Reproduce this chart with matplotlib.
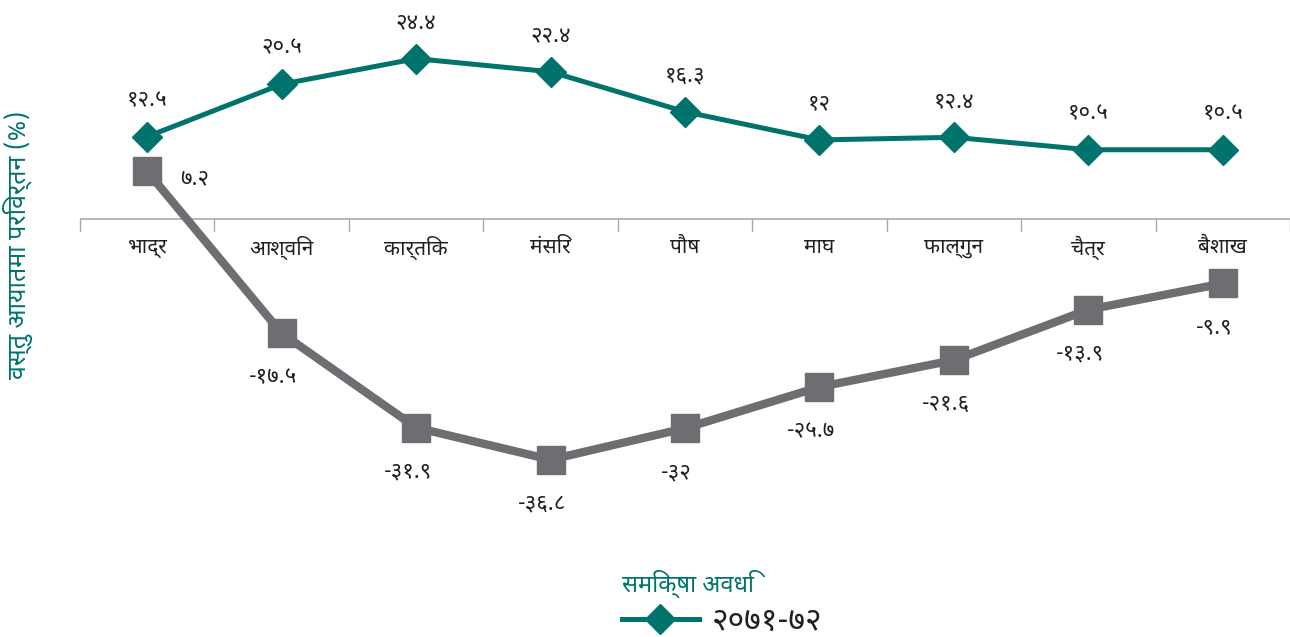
import matplotlib
matplotlib.use('Agg')
import matplotlib.pyplot as plt
from matplotlib import font_manager
from matplotlib.ft2font import FT2Font

# Data (Nepali months, percent change in merchandise imports)
months = ['भाद्र', 'आश्विन', 'कार्तिक', 'मंसिर', 'पौष', 'माघ', 'फाल्गुन', 'चैत्र', 'बैशाख']
series_a = [12.5, 20.5, 24.4, 22.4, 16.3, 12.0, 12.4, 10.5, 10.5]
labels_a = ['१२.५', '२०.५', '२४.४', '२२.४', '१६.३', '१२', '१२.४', '१०.५', '१०.५']
series_b = [7.2, -17.5, -31.9, -36.8, -32.0, -25.7, -21.6, -13.9, -9.9]
labels_b = ['७.२', '-१७.५', '-३१.९', '-३६.८', '-३२', '-२५.७', '-२१.६', '-१३.९', '-९.९']
legend_title = 'समिक्षा अवधि'
legend_label = '२०७१-७२'
ylabel = 'वस्तु आयातमा परिवर्तन (%)'

TEAL = '#00736c'
GRAY = '#6d6e71'
TEXT = '#231f20'

# pick an installed font that has Devanagari glyphs
names = set()
for f in font_manager.fontManager.ttflist:
    try:
        cmap = FT2Font(f.fname).get_charmap()
    except Exception:
        continue
    if 0x0915 in cmap and 0x0966 in cmap:
        names.add(f.name)
names = sorted(names)
deva = names[0] if names else None
for pref in ['Noto Sans Devanagari', 'Lohit Devanagari', 'Mukta', 'Hind', 'FreeSans']:
    if pref in names:
        deva = pref
        break
plt.rcParams['font.family'] = ([deva] if deva else []) + ['DejaVu Sans']

fig = plt.figure(figsize=(12.9, 6.37), dpi=100)
ax = fig.add_axes([80 / 1290, 1 - 520 / 637, 1 - 80 / 1290, 500 / 637])

x = list(range(len(months)))
ax.plot(x, series_b, color=GRAY, lw=6, marker='s', ms=20, zorder=3)
ax.plot(x, series_a, color=TEAL, lw=3.6, marker='D', ms=15, zorder=4,
        label=legend_label)

for i, (v, t) in enumerate(zip(series_a, labels_a)):
    ax.annotate(t, (i, v), xytext=(0, 26), textcoords='offset points',
                ha='center', va='center', fontsize=16, color=TEXT)
for i, (v, t) in enumerate(zip(series_b, labels_b)):
    if i == 0:
        ax.annotate(t, (i, v), xytext=(34, -5), textcoords='offset points',
                    ha='center', va='center', fontsize=16, color=TEXT)
    else:
        ax.annotate(t, (i, v), xytext=(-6, -32), textcoords='offset points',
                    ha='center', va='center', fontsize=16, color=TEXT)

ax.set_xlim(-0.5, len(months) - 0.5)
ax.set_ylim(-46.0, 30.3)

# category axis drawn at zero
ax.axhline(0, color='#a7a9ac', lw=1.2, zorder=1)
for b in [i - 0.5 for i in range(len(months) + 1)]:
    ax.plot([b, b], [0, -1.9], color='#a7a9ac', lw=1, zorder=1, clip_on=False)
for i, m in enumerate(months):
    ax.text(i, -4.4, m, ha='center', va='center', fontsize=15, color=TEXT)

for s in ax.spines.values():
    s.set_visible(False)
ax.set_xticks([])
ax.set_yticks([])

fig.text(18 / 1290, 1 - 245 / 637, ylabel, rotation=90, ha='center', va='center',
         fontsize=18, color=TEAL)

leg = fig.legend(loc='center', bbox_to_anchor=(722 / 1290, 1 - 604 / 637),
                 frameon=False, fontsize=23, title=legend_title,
                 handlelength=2.4, handletextpad=0.4, alignment='left',
                 borderpad=0.2, labelspacing=0.2)
leg.get_title().set_color(TEAL)
leg.get_title().set_fontsize(17)
for t in leg.get_texts():
    t.set_color(TEXT)

fig.savefig('out.png', dpi=100)
